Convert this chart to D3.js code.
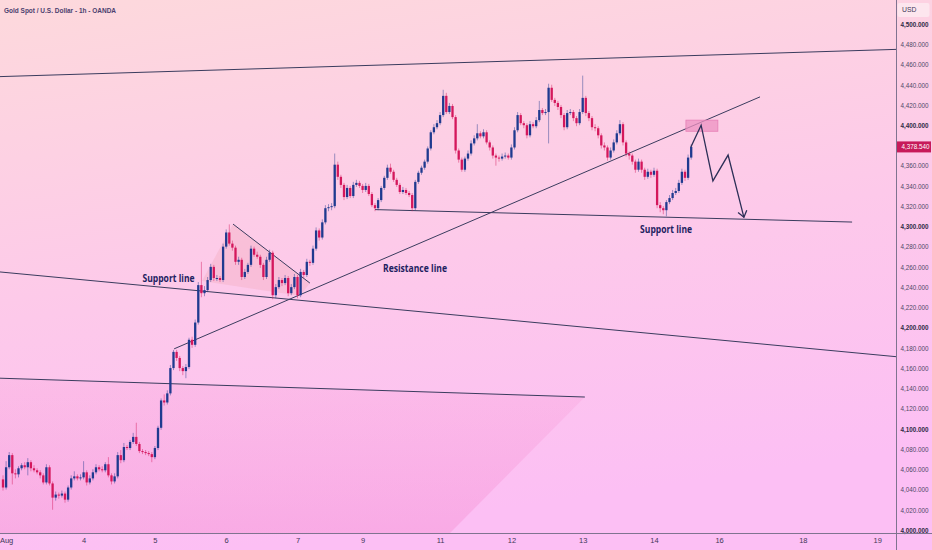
<!DOCTYPE html>
<html>
<head>
<meta charset="utf-8">
<script src="https://cdn.jsdelivr.net/npm/d3@7"></script>
<style>
  html, body { margin: 0; padding: 0; background: #fdd3e4; }
  svg { display: block; }
</style>
</head>
<body>
<div id="chart"></div>
<script>
// XAUUSD 1h candles, bar index counted from the left edge of the chart
const firstOpen = 4050;
const closes = [
  4042,4062,4074,4056,4055,4061,4064,4062,4067,4061,
  4059,4057,4054,4047,4062,4046,4032,4035,4034,4036,
  4030,4042,4051,4053,4051,4052,4057,4047,4051,4057,
  4062,4060,4059,4065,4054,4048,4053,4074,4069,4082,
  4081,4087,4092,4085,4078,4077,4076,4075,4072,4081,
  4101,4128,4126,4135,4160,4176,4170,4160,4157,4161,
  4188,4183,4205,4242,4234,4237,4247,4260,4249,4249,
  4247,4280,4294,4283,4279,4265,4267,4250,4255,4262,
  4278,4272,4270,4262,4250,4267,4274,4232,4240,4247,
  4244,4249,4234,4240,4250,4232,4255,4252,4265,4264,
  4278,4296,4289,4304,4318,4319,4320,4361,4349,4341,
  4329,4338,4330,4341,4343,4340,4336,4340,4332,4321,
  4318,4326,4338,4348,4358,4354,4346,4341,4334,4336,
  4333,4331,4318,4344,4353,4358,4364,4377,4393,4398,
  4402,4410,4429,4413,4419,4408,4375,4366,4356,4367,
  4372,4382,4387,4392,4389,4393,4383,4378,4370,4368,
  4367,4369,4370,4368,4378,4395,4410,4402,4400,4390,
  4401,4399,4405,4415,4412,4413,4437,4425,4422,4418,
  4410,4398,4412,4413,4407,4402,4413,4427,4412,4407,
  4398,4397,4390,4380,4378,4368,4375,4383,4392,4401,
  4383,4372,4370,4364,4356,4364,4356,4349,4354,4351,
  4355,4321,4318,4316,4324,4328,4333,4335,4343,4354,
  4348,4368,4378.54
];
const highs = [
  4054,4068,4077,4076,4060,4063,4066,4067,4071,4069,
  4064,4061,4059,4056,4065,4064,4048,4038,4037,4039,
  4038,4044,4054,4058,4055,4055,4068,4059,4054,4060,
  4065,4064,4063,4067,4072,4056,4056,4077,4079,4086,
  4084,4089,4096,4106,4087,4080,4079,4078,4077,4083,
  4103,4130,4134,4138,4163,4178,4178,4172,4162,4164,
  4190,4191,4208,4245,4265,4241,4250,4263,4262,4252,
  4251,4283,4297,4302,4286,4281,4270,4269,4258,4264,
  4281,4280,4275,4272,4264,4270,4277,4276,4243,4250,
  4249,4252,4251,4243,4253,4252,4258,4257,4268,4267,
  4281,4299,4298,4307,4321,4322,4323,4372,4364,4351,
  4343,4341,4340,4344,4346,4345,4342,4343,4342,4334,
  4323,4328,4340,4350,4361,4362,4356,4348,4343,4339,
  4338,4335,4333,4346,4355,4360,4366,4379,4395,4401,
  4405,4413,4435,4432,4422,4421,4410,4377,4368,4369,
  4375,4385,4390,4401,4394,4396,4395,4385,4380,4372,
  4370,4372,4373,4372,4381,4398,4413,4412,4404,4402,
  4404,4403,4408,4424,4417,4416,4441,4440,4427,4424,
  4420,4412,4415,4416,4415,4409,4416,4449,4429,4414,
  4409,4401,4399,4392,4383,4380,4378,4386,4395,4405,
  4403,4385,4374,4372,4366,4367,4366,4358,4357,4356,
  4358,4357,4324,4320,4326,4331,4336,4338,4346,4357,
  4356,4371,4381
];
const lows = [
  4039,4040,4060,4045,4051,4052,4059,4060,4054,4058,
  4057,4055,4051,4045,4045,4044,4020,4029,4031,4032,
  4027,4028,4040,4049,4049,4049,4050,4044,4045,4049,
  4055,4058,4057,4057,4052,4045,4046,4051,4066,4067,
  4079,4079,4085,4083,4076,4075,4074,4073,4067,4070,
  4079,4099,4123,4124,4133,4158,4167,4157,4153,4150,
  4159,4180,4181,4203,4230,4231,4235,4245,4246,4246,
  4245,4245,4278,4281,4276,4262,4262,4247,4248,4253,
  4260,4270,4268,4259,4247,4248,4265,4228,4229,4238,
  4241,4242,4231,4232,4238,4229,4230,4249,4250,4261,
  4262,4276,4286,4287,4302,4315,4316,4318,4346,4338,
  4326,4327,4328,4328,4339,4338,4333,4334,4330,4319,
  4315,4316,4324,4336,4346,4352,4344,4339,4332,4332,
  4331,4329,4315,4316,4342,4351,4356,4362,4375,4391,
  4396,4400,4408,4411,4411,4406,4372,4363,4354,4354,
  4365,4370,4380,4385,4387,4387,4381,4375,4367,4360,
  4364,4365,4367,4366,4366,4376,4393,4400,4397,4387,
  4388,4397,4397,4403,4410,4410,4382,4423,4419,4415,
  4407,4395,4396,4410,4404,4399,4400,4411,4409,4404,
  4395,4394,4387,4377,4375,4365,4366,4373,4381,4390,
  4380,4369,4366,4361,4353,4354,4353,4346,4347,4348,
  4349,4318,4314,4312,4310,4322,4326,4331,4333,4341,
  4345,4346,4366
];

// time axis labels and the bar each one sits on
const dayLabels = ["Aug", "4", "5", "6", "7", "9", "11", "12", "13", "14", "16", "18", "19"];
const dayBars = [1, 26, 49, 72, 95, 116, 141, 164, 187, 210, 231, 258, 282];

// price axis labels
const priceTicks = [4000, 4020, 4040, 4060, 4080, 4100, 4120, 4140, 4160, 4180, 4200, 4220, 4240,
  4260, 4280, 4300, 4320, 4340, 4360, 4400, 4420, 4440, 4460, 4480, 4500];

// drawings, anchored as [bar, price]
const upperChannel = [[-1, 4448], [289, 4475]];
const resistanceLine = [[55.2, 4179], [244.2, 4428]];
const fallingSupport = [[-1, 4255], [289, 4171]];
const lowerLine = [[-1, 4150], [187.7, 4131.4]];
const supportLine = [[120, 4316.6], [273.9, 4304.3]];
const triangleTop = [[74.2, 4302.3], [99, 4244]];
const triangleFill = [[64.2, 4246], [74.2, 4302.3], [99, 4244], [95.8, 4231.4]];
const lowerZone = [[-1, 4150], [187.7, 4131.4], [144.2, 3997], [-1, 3997]];
const targetBox = [[220.3, 4405], [230.6, 4394]];
const pathArrow = [[221.9, 4378.5], [225.2, 4400], [229, 4345], [233.9, 4370.5], [239, 4309]];
const notes = [
  { text: "Support line", bar: 53.4, price: 4248, len: 52 },
  { text: "Resistance line", bar: 132.9, price: 4258, len: 64 },
  { text: "Support line", bar: 213.9, price: 4296.5, len: 52 }
];

const W = 932, H = 550;
const plotW = 896, plotH = 533;
const upColor = "#1f3a8f", downColor = "#d4175c", ink = "#2c2f57";

const candles = closes.map((c, i) => ({
  i, c, o: i === 0 ? firstOpen : closes[i - 1], h: highs[i], l: lows[i]
}));

const x = d3.scaleLinear().domain([0, 222]).range([3, 691.2]);
const y = d3.scaleLinear().domain([4000, 4500]).range([530, 24]);
const pt = d => [x(d[0]), y(d[1])];

const svg = d3.select("#chart").append("svg")
  .attr("width", W).attr("height", H)
  .style("font-family", "'Liberation Sans', Arial, sans-serif");

const defs = svg.append("defs");
const bg = defs.append("linearGradient").attr("id", "bg")
  .attr("x1", 0).attr("y1", 0).attr("x2", 0.25).attr("y2", 1);
bg.append("stop").attr("offset", "0%").attr("stop-color", "#fdd9dc");
bg.append("stop").attr("offset", "55%").attr("stop-color", "#fdc9ea");
bg.append("stop").attr("offset", "100%").attr("stop-color", "#fcbff4");

const zoneGrad = defs.append("linearGradient").attr("id", "zone")
  .attr("x1", 0).attr("y1", 0).attr("x2", 0).attr("y2", 1);
zoneGrad.append("stop").attr("offset", "0%").attr("stop-color", "#f78fcf").attr("stop-opacity", 0.18);
zoneGrad.append("stop").attr("offset", "100%").attr("stop-color", "#f27fc6").attr("stop-opacity", 0.32);

defs.append("clipPath").attr("id", "plot")
  .append("rect").attr("width", plotW).attr("height", plotH);

defs.append("marker").attr("id", "head")
  .attr("viewBox", "-8 -6 10 12").attr("refX", 0).attr("refY", 0)
  .attr("markerWidth", 10).attr("markerHeight", 12)
  .attr("markerUnits", "userSpaceOnUse").attr("orient", "auto")
  .append("path").attr("d", "M-6,-4.5L0,0L-6,4.5")
  .attr("fill", "none").attr("stroke", ink).attr("stroke-width", 1.3);

svg.append("rect").attr("width", W).attr("height", H).attr("fill", "url(#bg)");

const plot = svg.append("g").attr("clip-path", "url(#plot)");

// shaded zones
plot.append("path").datum(lowerZone)
  .attr("d", d => "M" + d.map(pt).join("L") + "Z")
  .attr("fill", "url(#zone)");
plot.append("path").datum(triangleFill)
  .attr("d", d => "M" + d.map(pt).join("L") + "Z")
  .attr("fill", "#f2a9b9").attr("fill-opacity", 0.35);

// trend lines
plot.selectAll(".trend")
  .data([upperChannel, resistanceLine, fallingSupport, lowerLine, supportLine, triangleTop])
  .enter().append("line")
  .attr("x1", d => x(d[0][0])).attr("y1", d => y(d[0][1]))
  .attr("x2", d => x(d[1][0])).attr("y2", d => y(d[1][1]))
  .attr("stroke", "#3a3c5e").attr("stroke-width", 1);

// wicks
plot.selectAll(".wick").data(candles).enter().append("line")
  .attr("x1", d => x(d.i)).attr("x2", d => x(d.i))
  .attr("y1", d => y(d.h)).attr("y2", d => y(d.l))
  .attr("stroke", d => d.c >= d.o ? upColor : downColor)
  .attr("stroke-opacity", 0.45).attr("stroke-width", 1);

// bodies
plot.selectAll(".body").data(candles).enter().append("rect")
  .attr("x", d => x(d.i) - 1.15).attr("width", 2.3)
  .attr("y", d => y(Math.max(d.o, d.c)))
  .attr("height", d => Math.max(1, Math.abs(y(d.o) - y(d.c))))
  .attr("fill", d => d.c >= d.o ? upColor : downColor);

// target box and projected path
plot.append("rect")
  .attr("x", x(targetBox[0][0])).attr("y", y(targetBox[0][1]))
  .attr("width", x(targetBox[1][0]) - x(targetBox[0][0]))
  .attr("height", y(targetBox[1][1]) - y(targetBox[0][1]))
  .attr("fill", "#ec92c2").attr("fill-opacity", 0.75)
  .attr("stroke", "#e67fb6").attr("stroke-width", 0.8);
plot.append("path").datum(pathArrow)
  .attr("d", d => "M" + d.map(pt).join("L"))
  .attr("fill", "none").attr("stroke", ink).attr("stroke-width", 1.3)
  .attr("marker-end", "url(#head)");

// labels on the drawings
plot.selectAll(".note").data(notes).enter().append("text")
  .attr("x", d => x(d.bar)).attr("y", d => y(d.price))
  .attr("dy", "0.35em").attr("text-anchor", "middle")
  .attr("font-family", "'Open Sans', sans-serif")
  .attr("font-size", 9.8).attr("font-weight", 700)
  .attr("textLength", d => d.len).attr("lengthAdjust", "spacingAndGlyphs")
  .attr("fill", "#1d2160")
  .text(d => d.text);

// price axis
const yAxis = svg.append("g")
  .attr("transform", "translate(" + plotW + ",0)")
  .call(d3.axisRight(y).tickValues(priceTicks).tickFormat(d3.format(",.3f")).tickSize(0).tickPadding(4.5));
yAxis.select(".domain").remove();
yAxis.selectAll("text")
  .attr("font-size", 7.2).attr("textLength", 28).attr("lengthAdjust", "spacingAndGlyphs")
  .attr("fill", d => d % 100 === 0 ? "#2e2a45" : "#4f4866")
  .attr("font-weight", d => d % 100 === 0 ? 700 : 400);

// time axis
const xAxis = svg.append("g")
  .attr("transform", "translate(0," + plotH + ")")
  .call(d3.axisBottom(x).tickValues(dayBars).tickFormat((d, i) => dayLabels[i]).tickSize(0).tickPadding(5));
xAxis.select(".domain").remove();
xAxis.selectAll("text").attr("font-size", 7.5).attr("fill", "#3e3858");

// frame lines
svg.append("line").attr("x1", 0).attr("x2", W).attr("y1", plotH + 0.5).attr("y2", plotH + 0.5)
  .attr("stroke", "#7f7390").attr("stroke-width", 1);
svg.append("line").attr("x1", plotW + 0.5).attr("x2", plotW + 0.5).attr("y1", 0).attr("y2", H)
  .attr("stroke", "#7f7390").attr("stroke-width", 1);

// last price tag
const last = closes[closes.length - 1];
svg.append("rect").attr("x", plotW + 1).attr("y", y(last) - 5.5)
  .attr("width", 34).attr("height", 11).attr("fill", "#c71a5a");
svg.append("text").attr("x", plotW + 5.5).attr("y", y(last)).attr("dy", "0.35em")
  .attr("font-size", 7.2).attr("textLength", 28).attr("lengthAdjust", "spacingAndGlyphs")
  .attr("fill", "#fff").text(d3.format(",.3f")(last));

// currency badge
svg.append("rect").attr("x", plotW + 1.5).attr("y", 3).attr("width", 32).attr("height", 14)
  .attr("rx", 2).attr("fill", "#fde6ee");
svg.append("text").attr("x", plotW + 6).attr("y", 10).attr("dy", "0.35em")
  .attr("font-size", 6.8).attr("fill", "#3e3858").text("USD");

// title
svg.append("text").attr("x", 4).attr("y", 13)
  .attr("font-size", 7.5).attr("textLength", 112).attr("lengthAdjust", "spacingAndGlyphs")
  .attr("fill", "#4b3e6e").attr("font-weight", 600)
  .text("Gold Spot / U.S. Dollar - 1h - OANDA");
</script>
</body>
</html>
